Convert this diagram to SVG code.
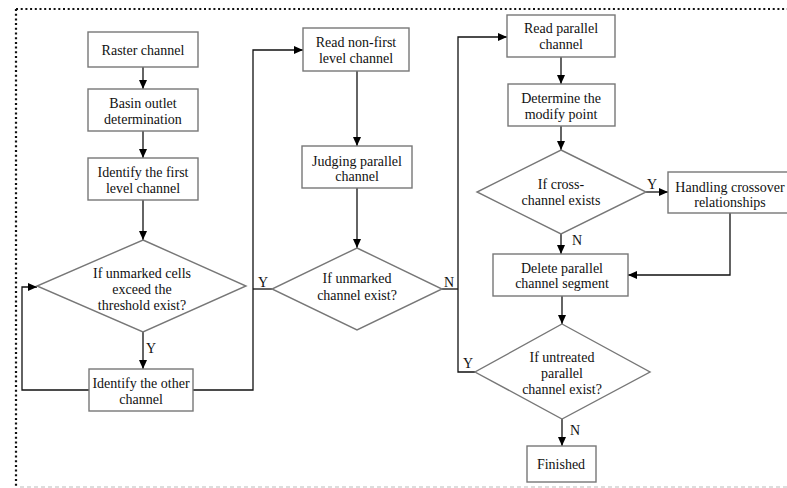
<svg xmlns="http://www.w3.org/2000/svg" width="787" height="488" viewBox="0 0 787 488">
<defs>
<marker id="ah" markerWidth="10" markerHeight="10" refX="9" refY="4" orient="auto" markerUnits="userSpaceOnUse">
<path d="M0,0 L9,4 L0,8 Z" fill="#000"/>
</marker>
<style>
.box{fill:#fff;stroke:#777;stroke-width:1.4}
.dia{fill:#fff;stroke:#777;stroke-width:1.4}
.t{font-family:"Liberation Serif","Times New Roman",serif;font-size:14px;fill:#111;text-anchor:middle}
.lb{font-family:"Liberation Serif","Times New Roman",serif;font-size:14px;fill:#111}
.c{fill:none;stroke:#111;stroke-width:1.3}
.ca{fill:none;stroke:#111;stroke-width:1.3;marker-end:url(#ah)}
</style>
</defs>
<rect width="787" height="488" fill="#fff"/>
<g id="frame">
<line x1="16" y1="9" x2="787" y2="9" stroke="#111" stroke-width="2.2" stroke-dasharray="2,2.7"/>
<line x1="16" y1="9" x2="16" y2="488" stroke="#111" stroke-width="2.2" stroke-dasharray="2,2.7"/>
<line x1="20" y1="487" x2="787" y2="487" stroke="#bbb" stroke-width="1" stroke-dasharray="4,3"/>
</g>
<g id="connectors">
<path class="ca" d="M143,67 V89"/>
<path class="ca" d="M143,131 V158"/>
<path class="ca" d="M143,200 V240"/>
<path class="ca" d="M143,332 V369"/>
<path class="ca" d="M89,390 H22 V287 H37"/>
<path class="ca" d="M193,390 H253 V50 H303"/>
<path class="c" d="M272,289 H253"/>
<path class="ca" d="M357,71 V146"/>
<path class="ca" d="M357,188 V248"/>
<path class="c" d="M442,289 H458"/>
<path class="ca" d="M475,372 H458 V37 H507"/>
<path class="ca" d="M561,57 V84"/>
<path class="ca" d="M561,126 V150"/>
<path class="ca" d="M646,192 H668"/>
<path class="ca" d="M561,234 V254"/>
<path class="ca" d="M730,213 V275 H628"/>
<path class="ca" d="M562,296 V324"/>
<path class="ca" d="M562,419 V446"/>
<text class="lb" x="146" y="353">Y</text>
<text class="lb" x="258" y="287">Y</text>
<text class="lb" x="444" y="287">N</text>
<text class="lb" x="647" y="189">Y</text>
<text class="lb" x="572" y="245">N</text>
<text class="lb" x="463" y="368">Y</text>
<text class="lb" x="570" y="435">N</text>
</g>
<g id="raster">
<rect class="box" x="88" y="32" width="110" height="35"/>
<text class="t" x="143" y="55">Raster channel</text>
</g>
<g id="basin">
<rect class="box" x="88" y="89" width="110" height="42"/>
<text class="t" x="143" y="108">Basin outlet</text>
<text class="t" x="143" y="124">determination</text>
</g>
<g id="first-level">
<rect class="box" x="88" y="158" width="110" height="42"/>
<text class="t" x="143" y="177">Identify the first</text>
<text class="t" x="143" y="193">level channel</text>
</g>
<g id="d-unmarked-cells">
<polygon class="dia" points="143,240 246,286 143,332 37,286"/>
<text class="t" x="142" y="278">If unmarked cells</text>
<text class="t" x="142" y="294">exceed the</text>
<text class="t" x="142" y="310">threshold exist?</text>
</g>
<g id="other-channel">
<rect class="box" x="89" y="369" width="104" height="42"/>
<text class="t" x="141" y="388">Identify the other</text>
<text class="t" x="141" y="404">channel</text>
</g>
<g id="read-nonfirst">
<rect class="box" x="303" y="28" width="106" height="43"/>
<text class="t" x="356" y="47">Read non-first</text>
<text class="t" x="356" y="63">level channel</text>
</g>
<g id="judging">
<rect class="box" x="302" y="146" width="110" height="42"/>
<text class="t" x="357" y="166">Judging parallel</text>
<text class="t" x="357" y="181">channel</text>
</g>
<g id="d-unmarked-channel">
<polygon class="dia" points="357,248 442,289 357,330 272,289"/>
<text class="t" x="357" y="283">If unmarked</text>
<text class="t" x="357" y="300">channel exist?</text>
</g>
<g id="read-parallel">
<rect class="box" x="507" y="15" width="108" height="42"/>
<text class="t" x="561" y="33">Read parallel</text>
<text class="t" x="561" y="49">channel</text>
</g>
<g id="determine">
<rect class="box" x="508" y="84" width="107" height="42"/>
<text class="t" x="561" y="103">Determine the</text>
<text class="t" x="561" y="119">modify point</text>
</g>
<g id="d-cross">
<polygon class="dia" points="561,150 646,192 561,234 477,192"/>
<text class="t" x="561" y="189">If cross-</text>
<text class="t" x="561" y="205">channel exists</text>
</g>
<g id="handling">
<rect class="box" x="668" y="172" width="130" height="41"/>
<text class="t" x="730" y="192">Handling crossover</text>
<text class="t" x="730" y="207">relationships</text>
</g>
<g id="delete">
<rect class="box" x="493" y="254" width="135" height="42"/>
<text class="t" x="562" y="273">Delete parallel</text>
<text class="t" x="562" y="288">channel segment</text>
</g>
<g id="d-untreated">
<polygon class="dia" points="562,324 650,372 562,419 475,372"/>
<text class="t" x="562" y="362">If untreated</text>
<text class="t" x="562" y="378">parallel</text>
<text class="t" x="562" y="394">channel exist?</text>
</g>
<g id="finished">
<rect class="box" x="527" y="446" width="69" height="36"/>
<text class="t" x="561" y="469">Finished</text>
</g>
</svg>
